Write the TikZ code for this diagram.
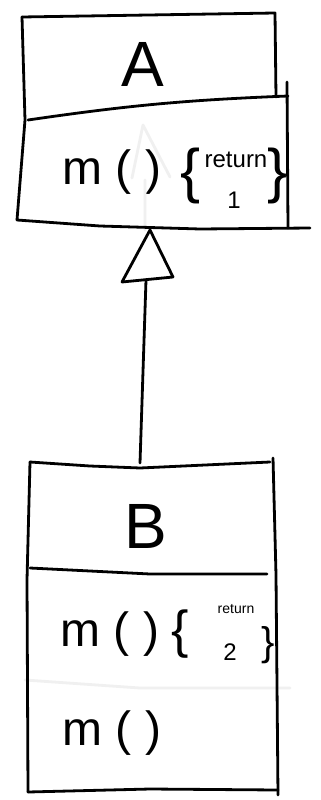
\documentclass[tikz,border=0pt]{standalone}
\usepackage{fontspec}
\setmainfont{Liberation Sans}
\usetikzlibrary{positioning}
\begin{document}
\begin{tikzpicture}[x=1pt,y=-1pt,
trait/.style={line width=2.8pt,line cap=round,line join=round},
pale/.style={line width=2.8pt,draw=black!6,line cap=round},
nom/.style={font=\fontsize{64}{64}\selectfont,inner sep=0pt},
meth/.style={font=\fontsize{48}{48}\selectfont,inner sep=0pt},
accol/.style={font=\fontsize{60}{60}\selectfont,inner sep=0pt},
corps/.style={font=\fontsize{24}{24}\selectfont,inner sep=0pt}]
\useasboundingbox[fill=white] (0,0) rectangle (321,800);
% classe A
\coordinate (ahg) at (22,17);
\coordinate (ahd) at (275,13);
\coordinate (asg) at (28,120);
\coordinate (asd) at (288,96);
\coordinate (abg) at (17,220);
\coordinate (abd) at (310,228);
\node[nom] (nomA) at (143,64) {A};
\node[meth] (methA) at (112,172) {m ( )};
\node[accol] (ouvA) at (191,176) {\{};
\node[corps] (retA) at (236,160) {return};
\node[corps] (unA) at (234,200) {1};
\node[accol] (fermA) at (278,176) {\}};
% trace effacee
\coordinate (fh) at (143,125);
\coordinate (fb) at (145,230);
\draw[pale] (fh) -- (132,178) (fh) -- (170,177) (145,180) -- (fb);
\draw[trait] (ahg) -- (ahd) -- (276,97);
\draw[trait] (ahg) -- (25,120) -- (abg);
\draw[trait] (asg) to[bend left=3] (asd);
\draw[trait] (287,82) -- (288,228);
\draw[trait] (abg) -- (100,226) -- (200,229) -- (abd);
% classe B
\coordinate (bhg) at (30,462);
\coordinate (bhd) at (270,462);
\coordinate (bsg) at (30,568);
\coordinate (bsd) at (267,574);
\coordinate (btg) at (25,680);
\coordinate (btd) at (290,688);
\coordinate (bbg) at (28,792);
\coordinate (bbd) at (278,790);
\node[nom] (nomB) at (146,526) {B};
\node[meth] (methB) at (110,634) {m ( )};
\node[accol,font=\fontsize{52}{52}\selectfont] (ouvB) at (180,634) {\{};
\node[corps,font=\fontsize{14}{14}\selectfont] (retB) at (236,609) {return};
\node[corps] (deuxB) at (230,652) {2};
\node[accol,font=\fontsize{40}{40}\selectfont] (fermB) at (268,645) {\}};
\node[meth] (methB2) at (112,733) {m ( )};
\draw[pale] (btg) -- (140,688) -- (btd);
\draw[trait] (bhg) -- (90,466) -- (140,468) -- (bhd);
\draw[trait] (bhg) -- (27,580) -- (bbg);
\draw[trait] (273,458) -- (276,575) -- (278,795);
\draw[trait] (bsg) -- (150,574) -- (bsd);
\draw[trait] (bbg) -- (150,789) -- (bbd);
% heritage
\coordinate (pointe) at (150,230);
\coordinate (baseg) at (122,282);
\coordinate (based) at (173,277);
\coordinate (basem) at (146,280);
\draw[trait,fill=white] (pointe) -- (baseg) -- (based) -- cycle;
\draw[trait] (basem) -- (140,463);
\end{tikzpicture}
\end{document}
